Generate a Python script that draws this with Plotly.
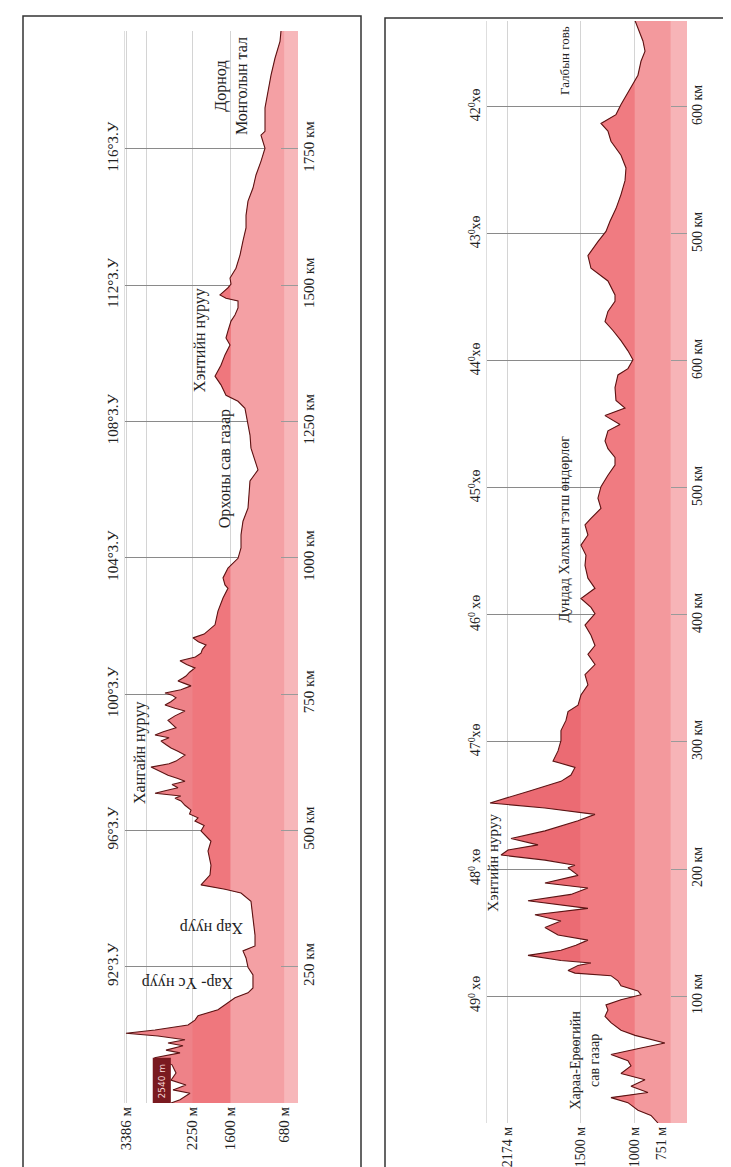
import numpy as np
import plotly.graph_objects as go

# ---------------- DATA ----------------
# Left profile: west-east transect (distance km, elevation m)
left_km = [0, 6, 18, 24, 33, 42, 55, 70, 83, 92, 97, 105, 110, 116, 123, 128, 134, 143, 152, 160,
           171, 183, 193, 202, 211, 235, 249, 266, 279, 288, 308, 339, 370, 385, 392, 400, 413, 418,
           436, 462, 480, 499, 509, 517, 523, 530, 537, 546, 554, 559, 563, 568, 573, 578, 584, 590,
           595, 601, 608, 616, 622, 627, 633, 638, 645, 651, 657, 664, 670, 675, 681, 688, 695, 702,
           710, 719, 724, 730, 736, 743, 748, 752, 758, 765, 770, 774, 779, 783, 790, 798, 804, 811,
           818, 825, 832, 840, 846, 853, 860, 871, 877, 902, 926, 944, 950, 963, 981, 999, 1018, 1042,
           1067, 1091, 1115, 1141, 1161, 1177, 1201, 1225, 1251, 1274, 1287, 1298, 1317, 1333, 1353,
           1372, 1390, 1403, 1416, 1434, 1445, 1458, 1471, 1476, 1482, 1495, 1502, 1513, 1531, 1555,
           1581, 1605, 1628, 1654, 1678, 1702, 1727, 1751, 1775, 1782, 1825, 1856, 1885, 1916, 1947, 1966]
left_elev = [2617, 2463, 2292, 2583, 2361, 2617, 2532, 2600, 2900, 2463, 2703, 2412, 2669, 2378, 2840,
             3388, 2891, 2326, 2207, 2155, 1813, 1642, 1522, 1299, 1214, 1214, 1299, 1333, 1385, 1179,
             1179, 1214, 1248, 1419, 1693, 2104, 1984, 1950, 1933, 1984, 1933, 2104, 2050, 2207, 2155,
             2300, 2275, 2378, 2446, 2549, 2450, 2891, 2700, 2498, 2600, 2378, 2500, 2669, 2800, 2960,
             2650, 2532, 2450, 2378, 2500, 2617, 2700, 2789, 2650, 2891, 2750, 2532, 2600, 2669, 2550,
             2378, 2550, 2720, 2620, 2532, 2600, 2720, 2450, 2275, 2400, 2498, 2420, 2361, 2300, 2207,
             2350, 2463, 2200, 2104, 2080, 2018, 2150, 2241, 2050, 1933, 1864, 1813, 1727, 1642, 1693,
             1727, 1642, 1470, 1419, 1419, 1385, 1299, 1282, 1265, 1128, 1179, 1248, 1265, 1316, 1351,
             1470, 1676, 1762, 1864, 1762, 1693, 1607, 1676, 1642, 1590, 1522, 1470, 1470, 1676, 1779,
             1642, 1590, 1607, 1505, 1436, 1385, 1333, 1333, 1299, 1214, 1162, 1077, 1008, 1077, 1008,
             1008, 957, 905, 837, 751, 734]
left_elev_ticks = [3386, 2250, 1600, 680]
left_elev_labels = ["3386 м", "2250 м", "1600 м", "680 м"]
left_km_ticks = [250, 500, 750, 1000, 1250, 1500, 1750]
left_km_labels = ["250 км", "500 км", "750 км", "1000 км", "1250 км", "1500 км", "1750 км"]
left_lon_labels = ["92°З.У", "96°З.У", "100°З.У", "104°З.У", "108°З.У", "112°З.У", "116°З.У"]
left_bands = [2250, 1600, 680]

# Right profile: north-south transect (distance km, elevation m)
right_km = [0, 6, 10, 16, 20, 24, 29, 34, 39, 45, 49, 54, 59, 63, 69, 73, 79, 84, 89, 93, 97, 101,
            104, 108, 112, 116, 118, 120, 124, 126, 128, 132, 136, 140, 144, 148, 154, 159, 164, 169,
            175, 180, 185, 189, 195, 201, 203, 207, 211, 215, 219, 224, 230, 238, 243, 248, 252, 254,
            261, 269, 274, 280, 285, 293, 301, 309, 317, 324, 329, 337, 345, 353, 361, 369, 376, 384,
            392, 401, 406, 413, 421, 429, 439, 447, 455, 463, 471, 476, 484, 492, 501, 510, 518, 524,
            531, 537, 545, 550, 557, 563, 569, 579, 589, 594, 601, 608, 616, 624, 631, 639, 647, 652,
            663, 673, 683, 694, 702, 710, 720, 731, 742, 752, 762, 773, 781, 787, 794, 802, 815, 825,
            836, 844, 852, 862, 868]
right_elev = [786, 850, 970, 1062, 1218, 878, 1034, 905, 1126, 1034, 1062, 1218, 942, 722, 997, 1126,
              1218, 1273, 1246, 1264, 1126, 942, 970, 1126, 1154, 1218, 1549, 1613, 1521, 1402, 1678,
              1981, 1678, 1540, 1430, 1705, 1825, 1678, 1917, 1430, 1981, 1586, 1430, 1825, 1521, 1613,
              1549, 1825, 2229, 2165, 1889, 2137, 1825, 1521, 1365, 1825, 2330, 2257, 1981, 1678, 1586,
              1549, 1751, 1705, 1678, 1678, 1632, 1613, 1521, 1494, 1430, 1457, 1365, 1430, 1365, 1402,
              1457, 1365, 1402, 1494, 1365, 1430, 1457, 1448, 1494, 1430, 1457, 1402, 1310, 1338, 1310,
              1246, 1181, 1181, 1246, 1273, 1246, 1135, 1273, 1089, 1172, 1181, 1154, 1062, 1016, 1062,
              1126, 1200, 1273, 1246, 1181, 1181, 1246, 1402, 1430, 1338, 1264, 1227, 1172, 1126, 1089,
              1080, 1126, 1218, 1246, 1310, 1172, 1126, 1034, 970, 942, 905, 924, 970, 997]
right_elev_ticks = [2174, 1500, 1000, 751]
right_elev_labels = ["2174 м", "1500 м", "1000 м", "751 м"]
right_km_ticks = [100, 200, 300, 400, 500, 600, 700, 800]
right_km_labels = ["100 км", "200 км", "300 км", "400 км", "500 км", "600 км", "500 км", "600 км"]
right_lat_labels = ["49<sup>0</sup> хө", "48<sup>0</sup> хө", "47<sup>0</sup>хө", "46<sup>0</sup> хө",
                    "45<sup>0</sup>хө", "44<sup>0</sup>хө", "43<sup>0</sup>хө", "42<sup>0</sup>хө"]
right_bands = [1500, 1000, 670]

# ---------------- HELPERS ----------------
W, H = 731, 1167
FONT = "Liberation Serif"
TXT = "#222222"


def add_crossings(d, e, levels):
    """Insert the exact points where the outline crosses band levels (geometry only)."""
    od, oe = [d[0]], [e[0]]
    for i in range(1, len(d)):
        d0, e0, d1, e1 = d[i - 1], e[i - 1], d[i], e[i]
        ts = []
        for L in levels:
            if (e0 - L) * (e1 - L) < 0:
                ts.append((L - e0) / (e1 - e0))
        for t in sorted(ts):
            od.append(d0 + t * (d1 - d0))
            oe.append(e0 + t * (e1 - e0))
        od.append(d1)
        oe.append(e1)
    return np.array(od, float), np.array(oe, float)


fig = go.Figure()


def add_profile(km, elev, bands, colors, xa, ya, ya_overlay):
    d, e = add_crossings(list(map(float, km)), list(map(float, elev)), bands)
    caps = [np.inf] + list(bands)
    for cap, col in zip(caps, colors):
        fig.add_trace(go.Scatter(x=np.minimum(e, cap), y=d, mode="lines", line=dict(width=0),
                                 fill="tozerox", fillcolor=col, xaxis=xa, yaxis=ya,
                                 hoverinfo="skip", showlegend=False))
    fig.add_trace(go.Scatter(x=elev, y=km, mode="lines", line=dict(color="#5c1414", width=1.1),
                             xaxis=xa, yaxis=ya, hoverinfo="skip", showlegend=False))
    # carrier for the coordinate-label axis on the other side
    fig.add_trace(go.Scatter(x=elev, y=km, mode="lines", line=dict(width=0), opacity=0,
                             xaxis=xa, yaxis=ya_overlay, hoverinfo="skip", showlegend=False))


add_profile(left_km, left_elev, left_bands,
            ["#ee8288", "#ef777d", "#f4a0a4", "#f7b7ba"], "x", "y", "y3")
add_profile(right_km, right_elev, right_bands,
            ["#eb6b73", "#f07b81", "#f3999d", "#f7b4b7"], "x2", "y2", "y4")

# ---------------- LAYOUT ----------------
L_plot = dict(x0=117, x1=290, y0=23, y1=1095)
R_plot = dict(x0=479, x1=679, y0=13, y1=1115)


def dom_x(p):
    return [p["x0"] / W, p["x1"] / W]


def dom_y(p):
    return [(H - p["y1"]) / H, (H - p["y0"]) / H]


def elev_axis(p, rng, vals, labels, size, anchor, minor_vals=None):
    ax = dict(domain=dom_x(p), anchor=anchor, range=rng, tickmode="array", tickvals=vals,
              ticktext=labels, tickangle=-90, showgrid=True, gridcolor="#d4d4d4", gridwidth=1,
              zeroline=False, showline=False, ticks="", fixedrange=True, automargin=False,
              tickfont=dict(family=FONT, size=size, color=TXT))
    if minor_vals:
        ax["minor"] = dict(tickmode="array", tickvals=minor_vals, showgrid=True,
                           gridcolor="#d4d4d4", ticks="")
    return ax


def dist_axis(p, rng, vals, labels, size, anchor, ticklen):
    return dict(domain=dom_y(p), anchor=anchor, side="right", range=rng, tickmode="array",
                tickvals=vals, ticktext=labels, tickangle=-90, showgrid=True,
                gridcolor="#8a8a8a", gridwidth=1.3, zeroline=False, showline=False,
                ticks="inside", ticklen=ticklen, tickcolor="#9a9a9a", tickwidth=1.3,
                fixedrange=True, automargin=False,
                tickfont=dict(family=FONT, size=size, color=TXT))


def coord_axis(over, anchor, rng, vals, labels, size):
    return dict(overlaying=over, anchor=anchor, side="left", range=rng, tickmode="array",
                tickvals=vals, ticktext=labels, tickangle=-90, showgrid=False, zeroline=False,
                showline=True, linecolor="#dedede", linewidth=1, ticks="", fixedrange=True,
                automargin=False, tickfont=dict(family=FONT, size=size, color=TXT))


L_range_x = [3405, 443]
L_range_y = [0, 1966]
R_range_x = [2358, 519]
R_range_y = [0, 867.7]

fig.update_layout(
    template="none",
    width=W, height=H, autosize=False,
    margin=dict(l=0, r=0, t=0, b=0, pad=0),
    paper_bgcolor="white", plot_bgcolor="white",
    showlegend=False, hovermode=False,
    font=dict(family=FONT, color=TXT),
    xaxis=elev_axis(L_plot, L_range_x, left_elev_ticks, left_elev_labels, 15, "y", [3045]),
    yaxis=dist_axis(L_plot, L_range_y, left_km_ticks, left_km_labels, 15, "x", 17),
    yaxis3=coord_axis("y", "x", L_range_y, left_km_ticks, left_lon_labels, 15),
    xaxis2=elev_axis(R_plot, R_range_x, right_elev_ticks, right_elev_labels, 14, "y2"),
    yaxis2=dist_axis(R_plot, R_range_y, right_km_ticks, right_km_labels, 14, "x2", 16),
    yaxis4=coord_axis("y2", "x2", R_range_y, right_km_ticks, right_lat_labels, 14),
)

# frames
fig.add_shape(type="rect", xref="paper", yref="paper", x0=15 / W, x1=353 / W,
              y0=(H - 1165) / H, y1=(H - 8) / H, line=dict(color="#333333", width=1.5))
fig.add_shape(type="rect", xref="paper", yref="paper", x0=377 / W, x1=729 / W,
              y0=(H - 1165) / H, y1=(H - 10) / H, line=dict(color="#333333", width=1.5))

# start-point elevation marker
fig.add_shape(type="rect", xref="x", yref="y", x0=2930, x1=2620, y0=0, y1=83,
              fillcolor="#7a1a20", line=dict(width=0), layer="above")
fig.add_annotation(x=2775, y=41, xref="x", yref="y", text="2540 m", textangle=-90,
                   showarrow=False, font=dict(family="DejaVu Sans", size=9, color="#f6d6d6"))

left_notes = [
    ("Дорнод<br>Монголын тал", 1590, 1865, -90),
    ("Хэнтийн нуруу", 2121, 1399, -90),
    ("Орхоны сав газар", 1693, 1164, -90),
    ("Хангайн нуруу", 3148, 642, -90),
    ("Хар нуур", 1933, 321, 180),
    ("Хар- Үс нуур", 2326, 220, 180),
]
for t, xv, yv, ang in left_notes:
    fig.add_annotation(x=xv, y=yv, xref="x", yref="y", text=t, textangle=ang, showarrow=False,
                       align="center", font=dict(family=FONT, size=16, color=TXT))

right_notes = [
    ("Галбын говь", 1641, 837, 13),
    ("Дундад Халхын тэгш өндөрлөг", 1641, 468, 14),
    ("Хэнтийн нуруу", 2303, 205, 15),
    ("Хараа-Ерөөгийн<br>сав газар", 1457, 50, 14),
]
for t, xv, yv, sz in right_notes:
    fig.add_annotation(x=xv, y=yv, xref="x2", yref="y2", text=t, textangle=-90, showarrow=False,
                       align="center", font=dict(family=FONT, size=sz, color=TXT))

fig.write_html("out.html")
